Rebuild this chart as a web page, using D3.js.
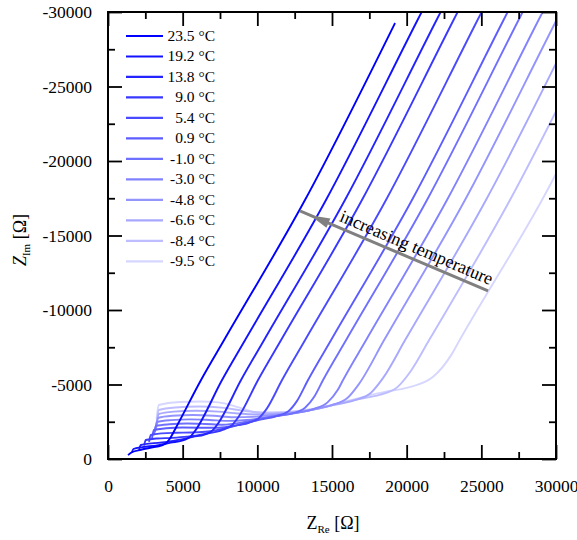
<!DOCTYPE html>
<html><head><meta charset="utf-8">
<script src="https://cdn.jsdelivr.net/npm/d3@7"></script>
<style>
html,body{margin:0;padding:0;background:#fff;}
svg{display:block;}
text{font-family:"Liberation Serif","Times New Roman",Times,serif;}
</style></head>
<body><svg id="chart" width="577" height="540" font-family="Liberation Serif, Times New Roman, serif"></svg>
<script>
// ---- data (Z_Re [Ohm], Z_Im [Ohm]) ----
const temperatures = ["23.5 °C","19.2 °C","13.8 °C","9.0 °C","5.4 °C","0.9 °C","-1.0 °C","-3.0 °C","-4.8 °C","-6.6 °C","-8.4 °C","-9.5 °C"];
const c_23_5 = [[1340,-260],[1600,-450],[2200,-620],[3000,-790],[3550,-892],[3900,-1068],[4150,-1379],[4600,-2200],[6230,-5300],[7785,-8000],[13190,-17380],[19220,-29260]];
const c_19_2 = [[1600,-420],[1700,-671],[2300,-800],[3200,-900],[4200,-1100],[5070,-1270],[5508,-1486],[5820,-1874],[7637,-5300],[9192,-8000],[14597,-17380],[20627,-29260],[23033,-34000]];
const c_13_8 = [[2080,-620],[2200,-940],[2900,-1050],[3800,-1120],[4800,-1300],[5700,-1490],[6460,-1640],[6985,-1902],[7360,-2369],[8909,-5300],[10464,-8000],[15869,-17380],[21899,-29260],[24305,-34000]];
const c_9_0 = [[2420,-900],[2530,-1275],[3300,-1380],[4300,-1420],[5300,-1500],[6500,-1690],[7675,-1958],[8288,-2260],[8725,-2803],[10047,-5300],[11602,-8000],[17007,-17380],[23037,-29260],[25443,-34000]];
const c_5_4 = [[2750,-1150],[2870,-1611],[3600,-1720],[4600,-1760],[5600,-1780],[6700,-1850],[7800,-2060],[8700,-2270],[9435,-2434],[10135,-2778],[10645,-3398],[11655,-5300],[13210,-8000],[18615,-17380],[24645,-29260],[27051,-34000]];
const c_0_9 = [[2950,-1400],[3070,-1946],[3900,-2060],[5000,-2110],[6200,-2100],[7400,-2100],[8600,-2260],[10000,-2600],[11290,-2877],[12080,-3205],[12648,-3883],[13396,-5300],[14951,-8000],[20356,-17380],[26386,-29260],[28792,-34000]];
const c_m1_0 = [[3080,-1600],[3200,-2215],[4100,-2330],[5300,-2380],[6500,-2350],[7700,-2300],[9000,-2450],[10500,-2760],[11500,-2920],[12320,-3050],[13195,-3437],[13820,-4198],[14401,-5300],[15956,-8000],[21361,-17380],[27391,-29260],[29797,-34000]];
const c_m3_0 = [[3150,-1800],[3270,-2483],[4200,-2610],[5500,-2660],[6800,-2620],[8000,-2560],[9300,-2620],[10800,-2830],[12300,-3050],[13740,-3354],[14702,-3799],[15390,-4642],[15740,-5300],[17295,-8000],[22700,-17380],[28730,-29260],[31136,-34000]];
const c_m4_8 = [[3210,-2000],[3340,-2752],[4300,-2900],[5700,-2950],[7100,-2900],[8400,-2800],[9700,-2830],[11200,-2960],[12800,-3130],[14000,-3380],[15000,-3621],[16050,-4107],[16800,-5027],[18501,-8000],[23906,-17380],[29936,-29260],[32342,-34000]];
const c_m6_6 = [[3270,-2200],[3400,-3020],[4400,-3180],[5900,-3240],[7400,-3180],[8700,-3050],[10000,-2990],[11500,-3060],[13200,-3220],[15000,-3600],[16475,-3938],[17612,-4450],[18425,-5442],[19907,-8000],[25312,-17380],[31342,-29260]];
const c_m8_4 = [[3260,-2400],[3400,-3288],[4500,-3460],[6100,-3520],[7600,-3450],[9000,-3250],[10300,-3120],[11800,-3140],[13500,-3320],[15300,-3700],[16900,-4040],[18170,-4300],[19397,-4842],[20279,-5907],[21514,-8000],[26919,-17380],[32949,-29260]];
const c_m9_5 = [[3250,-2700],[3400,-3624],[4800,-3830],[6200,-3860],[7400,-3800],[8800,-3450],[10500,-3000],[12200,-3060],[13700,-3300],[15500,-3750],[17100,-4170],[18600,-4520],[20000,-4774],[21750,-5500],[23000,-7005],[23560,-8000],[29062,-17380],[35092,-29260]];
const series = [c_23_5,c_19_2,c_13_8,c_9_0,c_5_4,c_0_9,c_m1_0,c_m3_0,c_m4_8,c_m6_6,c_m8_4,c_m9_5];
const xTicks = [0,5000,10000,15000,20000,25000,30000];
const yTicks = [0,-5000,-10000,-15000,-20000,-25000,-30000];
const xMinor = [2500,7500,12500,17500,22500,27500];
const yMinor = [-2500,-7500,-12500,-17500,-22500,-27500];
const arrowFrom = [25450,-11280];
const arrowTo = [12850,-16650];
const arrowLabel = "increasing temperature";

// ---- styles ----
const colors = ["#0000ff","#1212ff","#2424ff","#3838ff","#4a4aff","#5c5cff","#7070ff","#8282ff","#9494ff","#a8a8ff","#bdbdff","#d6d6ff"];
const FONT = '"Liberation Serif","Times New Roman",Times,serif';

const L=108,R=556,T=12,B=459;
const svg=d3.select("#chart");
const x=d3.scaleLinear().domain([0,30000]).range([L,R]);
const y=d3.scaleLinear().domain([0,-30000]).range([B,T]);

svg.append("defs").append("clipPath").attr("id","clip")
  .append("rect").attr("x",L).attr("y",T).attr("width",R-L).attr("height",B-T);

// curves (coldest first so the warm ones sit on top)
const line=d3.line().x(d=>x(d[0])).y(d=>y(d[1])).curve(d3.curveMonotoneX);
const g=svg.append("g").attr("clip-path","url(#clip)");
for(let i=series.length-1;i>=0;i--){
  g.append("path").attr("d",line(series[i])).attr("fill","none")
   .attr("stroke",colors[i]).attr("stroke-width",1.9).attr("stroke-linejoin","round");
}

// axes
function styleAxis(sel){
  sel.attr("font-family",FONT);
  sel.select(".domain").remove();
  sel.selectAll(".tick line").attr("stroke","#000").attr("stroke-width",1.8);
  sel.selectAll(".tick text").attr("fill","#000").attr("font-size",17.5).attr("font-family",FONT);
}
svg.append("g").attr("transform",`translate(0,${B})`)
  .call(d3.axisBottom(x).tickValues(xTicks).tickSize(-14).tickPadding(21).tickFormat(d=>String(d))).call(styleAxis);
svg.append("g").attr("transform",`translate(0,${B})`)
  .call(d3.axisBottom(x).tickValues(xMinor).tickSize(-7).tickFormat("")).call(styleAxis);
svg.append("g").attr("transform",`translate(0,${T})`)
  .call(d3.axisTop(x).tickValues(xTicks).tickSize(-14).tickFormat("")).call(styleAxis);
svg.append("g").attr("transform",`translate(0,${T})`)
  .call(d3.axisTop(x).tickValues(xMinor).tickSize(-7).tickFormat("")).call(styleAxis);
svg.append("g").attr("transform",`translate(${L},0)`)
  .call(d3.axisLeft(y).tickValues(yTicks).tickSize(-14).tickPadding(16).tickFormat(d=>String(d))).call(styleAxis);
svg.append("g").attr("transform",`translate(${L},0)`)
  .call(d3.axisLeft(y).tickValues(yMinor).tickSize(-7).tickFormat("")).call(styleAxis);
svg.append("g").attr("transform",`translate(${R},0)`)
  .call(d3.axisRight(y).tickValues(yTicks).tickSize(-14).tickFormat("")).call(styleAxis);
svg.append("g").attr("transform",`translate(${R},0)`)
  .call(d3.axisRight(y).tickValues(yMinor).tickSize(-7).tickFormat("")).call(styleAxis);

// frame
svg.append("rect").attr("x",L).attr("y",T).attr("width",R-L).attr("height",B-T)
  .attr("fill","none").attr("stroke","#000").attr("stroke-width",2);

// axis titles
const xt=svg.append("text").attr("x",333).attr("y",529).attr("text-anchor","middle").attr("font-size",18).attr("font-family",FONT);
xt.append("tspan").text("Z");
xt.append("tspan").attr("font-size",11).attr("dy",4).text("Re");
xt.append("tspan").attr("dy",-4).text(" [Ω]");
const yt=svg.append("text").attr("transform","translate(26,240) rotate(-90)").attr("text-anchor","middle").attr("font-size",18).attr("font-family",FONT);
yt.append("tspan").attr("font-style","italic").text("Z");
yt.append("tspan").attr("font-size",11).attr("dy",4).text("Im");
yt.append("tspan").attr("dy",-4).text(" [Ω]");

// legend
const lg=svg.append("g");
temperatures.forEach((t,i)=>{
  const yy=36+i*20.48;
  lg.append("line").attr("x1",126).attr("x2",163).attr("y1",yy).attr("y2",yy)
    .attr("stroke",colors[i]).attr("stroke-width",2.2);
  lg.append("text").attr("x",215).attr("y",yy+5).attr("text-anchor","end")
    .attr("font-size",15.5).attr("font-family",FONT).text(t);
});

// annotation arrow
const x0=x(arrowFrom[0]),y0=y(arrowFrom[1]),x1=x(arrowTo[0]),y1=y(arrowTo[1]);
svg.append("line").attr("x1",x0).attr("y1",y0).attr("x2",x1).attr("y2",y1)
  .attr("stroke","#808080").attr("stroke-width",3);
const len=Math.hypot(x0-x1,y0-y1), ux=(x0-x1)/len, uy=(y0-y1)/len, px=-uy, py=ux;
const tip=[x1+ux*11,y1+uy*11], base=[x1+ux*31,y1+uy*31];
svg.append("path").attr("fill","#808080")
  .attr("d",`M${tip[0]},${tip[1]}L${base[0]+px*5},${base[1]+py*5}L${base[0]-px*5},${base[1]-py*5}Z`);
const ang=Math.atan2(y0-y1,x0-x1)*180/Math.PI;
const mx=x1+ux*(len*0.595), my=y1+uy*(len*0.595);
svg.append("text").attr("transform",`translate(${mx-px*6},${my-py*6}) rotate(${ang})`)
  .attr("text-anchor","middle").attr("font-size",18).attr("font-family",FONT).text(arrowLabel);
</script></body></html>
